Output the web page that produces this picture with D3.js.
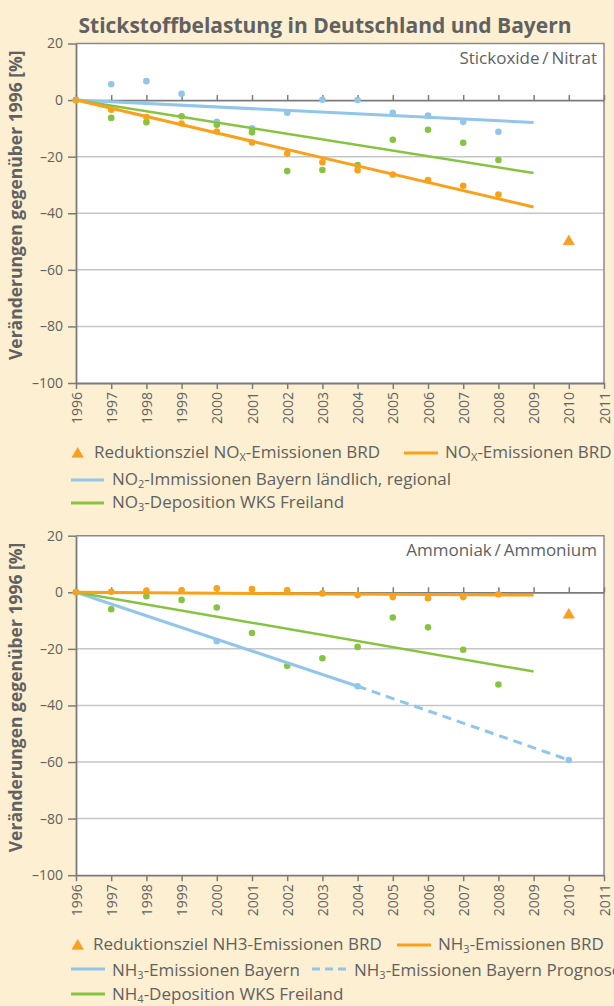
<!DOCTYPE html>
<html>
<head>
<meta charset="utf-8">
<script src="https://cdn.jsdelivr.net/npm/d3@7"></script>
<style>
  body { margin: 0; background: #fdefd1; }
  svg { display: block; font-family: "Open Sans", sans-serif; }
</style>
</head>
<body>
<div id="svg-area"></div>
<script>
// ---- data (% change against 1996) ----
var years = [1996, 1997, 1998, 1999, 2000, 2001, 2002, 2003, 2004, 2005, 2006, 2007, 2008];
var trendYears = [1996, 2009];
var targetYear = [2010];

// panel 1: Stickoxide / Nitrat
var noxBRD = [0, -3.4, -6, -8.3, -11.1, -15, -18.9, -22, -24.8, -26.3, -28.3, -30.3, -33.4];
var noxBRDTrend = [0, -37.8];
var no2Bayern = [0, 5.6, 6.7, 2.2, -7.7, -10, -4.5, 0.1, 0, -4.5, -5.5, -7.7, -11.2];
var no2BayernTrend = [0, -7.9];
var no3Deposition = [0, -6.3, -7.8, -5.7, -8.7, -11.4, -25.1, -24.7, -23, -14, -10.5, -15.1, -21.2];
var no3DepositionTrend = [0, -25.8];
var noxTarget = [-50];

// panel 2: Ammoniak / Ammonium
var nh3BRD = [0, 0.2, 0.5, 0.7, 1.4, 1.1, 0.7, -0.4, -1, -1.7, -2.1, -1.7, -0.7];
var nh3BRDTrend = [0, -1];
var nh4Deposition = [0, -6, -1.4, -2.7, -5.4, -14.4, -26, -23.3, -19.3, -8.9, -12.4, -20.3, -32.6];
var nh4DepositionTrend = [0, -28];
var nh3BayernYears = [1996, 2000, 2004];
var nh3Bayern = [0, -17.3, -33.2];
var nh3BayernLineYears = [1996, 2004];
var nh3BayernLine = [0, -33.2];
var nh3PrognoseYears = [2004, 2010];
var nh3Prognose = [-33.2, -59.3];
var nh3Target = [-8];

var yTicks = [20, 0, -20, -40, -60, -80, -100];
var xTicks = d3.range(1996, 2012);

// ---- colours ----
var orange = "#f9a11b";
var blue = "#92c5ea";
var green = "#86c440";
var textColor = "#616161";
var axisColor = "#7b7b7b";

// svg container
var svgWidth = 614;
var svgHeight = 1006;

var svg = d3.select("#svg-area").append("svg")
    .attr("width", svgWidth)
    .attr("height", svgHeight);

// title
svg.append("text")
    .attr("x", 325)
    .attr("y", 33)
    .attr("text-anchor", "middle")
    .attr("font-size", "21px")
    .attr("font-weight", "bold")
    .attr("fill", textColor)
    .text("Stickstoffbelastung in Deutschland und Bayern");

// plot area, shared x range
var plotLeft = 76, plotRight = 604, plotHeight = 339.5;

var xScale = d3.scaleLinear()
    .domain([1996, 2011])
    .range([plotLeft, plotRight]);

function zip(xs, ys) {
    return xs.map(function (d, i) { return [d, ys[i]]; });
}

// draws one panel with frame, grid and axes; returns the y scale
function drawPanel(top, label) {
    var yScale = d3.scaleLinear()
        .domain([-100, 20])
        .range([top + plotHeight, top]);

    var g = svg.append("g");

    g.append("rect")
        .attr("x", plotLeft)
        .attr("y", top)
        .attr("width", plotRight - plotLeft)
        .attr("height", plotHeight)
        .attr("fill", "#fff");

    // grid lines
    g.selectAll(".grid")
        .data([-20, -40, -60, -80])
        .enter()
        .append("line")
        .attr("x1", plotLeft)
        .attr("x2", plotRight)
        .attr("y1", d => yScale(d))
        .attr("y2", d => yScale(d))
        .attr("stroke", "#c6c6c6")
        .attr("stroke-width", 1.5);

    // top and right frame
    g.append("path")
        .attr("d", `M${plotLeft},${top}H${plotRight}V${top + plotHeight}`)
        .attr("fill", "none")
        .attr("stroke", "#8a8a8a")
        .attr("stroke-width", 1.5);

    // zero line with ticks pointing up
    var zeroAxis = g.append("g")
        .attr("transform", `translate(0, ${yScale(0)})`)
        .call(d3.axisTop(xScale).tickValues(xTicks).tickSize(5).tickFormat("").tickSizeOuter(0));

    // bottom axis with rotated year labels
    var xAxis = g.append("g")
        .attr("transform", `translate(0, ${top + plotHeight})`)
        .call(d3.axisBottom(xScale).tickValues(xTicks).tickSize(6).tickFormat(d3.format("d")).tickSizeOuter(0));

    xAxis.selectAll("text")
        .attr("transform", "rotate(-90)")
        .attr("x", -9)
        .attr("y", 0)
        .attr("dy", "0.36em")
        .style("text-anchor", "end");

    // left axis
    var yAxis = g.append("g")
        .attr("transform", `translate(${plotLeft}, 0)`)
        .call(d3.axisLeft(yScale).tickValues(yTicks).tickSize(8).tickPadding(5)
            .tickFormat(d => d < 0 ? "\u2013" + Math.abs(d) : d).tickSizeOuter(0));

    [zeroAxis, xAxis, yAxis].forEach(function (a) {
        a.select(".domain").attr("stroke", axisColor).attr("stroke-width", 1.8);
        a.selectAll(".tick line").attr("stroke", axisColor).attr("stroke-width", 1.5);
        a.selectAll("text")
            .attr("fill", textColor)
            .attr("font-size", "14px")
            .attr("font-family", "Open Sans, sans-serif");
    });

    // panel label
    g.append("text")
        .attr("x", 597)
        .attr("y", top + 20.5)
        .attr("text-anchor", "end")
        .attr("font-size", "17px")
        .attr("fill", textColor)
        .text(label);

    // y axis title
    svg.append("text")
        .attr("transform", `translate(22, ${top + plotHeight / 2 - 8}) rotate(-90)`)
        .attr("text-anchor", "middle")
        .attr("font-size", "17.5px")
        .attr("font-weight", "bold")
        .attr("fill", textColor)
        .text("Veränderungen gegenüber 1996 [%]");

    return yScale;
}

function addLine(yScale, xs, ys, color, width, dash) {
    var line = d3.line()
        .x(d => xScale(d[0]))
        .y(d => yScale(d[1]));
    svg.append("path")
        .datum(zip(xs, ys))
        .attr("d", line)
        .attr("fill", "none")
        .attr("stroke", color)
        .attr("stroke-width", width)
        .attr("stroke-dasharray", dash || null);
}

function addDots(yScale, xs, ys, color) {
    svg.append("g").selectAll("circle")
        .data(zip(xs, ys))
        .enter()
        .append("circle")
        .attr("cx", d => xScale(d[0]))
        .attr("cy", d => yScale(d[1]))
        .attr("r", 3.3)
        .attr("fill", color);
}

function addTriangle(x, y) {
    svg.append("path")
        .attr("transform", `translate(${x}, ${y})`)
        .attr("d", d3.symbol(d3.symbolTriangle).size(55)())
        .attr("fill", orange)
        .attr("stroke", "#f08a3a")
        .attr("stroke-width", 0.5);
}

// legend text with optional subscripts: parts = [[text, isSub], ...]
function legendText(x, y, parts) {
    var t = svg.append("text")
        .attr("x", x)
        .attr("y", y)
        .attr("font-size", "17px")
        .attr("fill", textColor);
    var shifted = false;
    parts.forEach(function (p) {
        var ts = t.append("tspan").text(p[0]);
        if (p[1]) {
            ts.attr("font-size", "11px").attr("dy", 3);
            shifted = true;
        } else if (shifted) {
            ts.attr("dy", -3);
            shifted = false;
        }
    });
}

function legendLine(x1, x2, y, color, dash) {
    svg.append("line")
        .attr("x1", x1)
        .attr("x2", x2)
        .attr("y1", y)
        .attr("y2", y)
        .attr("stroke", color)
        .attr("stroke-width", 3)
        .attr("stroke-dasharray", dash || null);
}

//////// panel 1 ////////
var y1 = drawPanel(43.5, "Stickoxide\u2009/\u2009Nitrat");

addDots(y1, years, no2Bayern, blue);
addDots(y1, years, no3Deposition, green);
addDots(y1, years, noxBRD, orange);
addLine(y1, trendYears, no2BayernTrend, blue, 3);
addLine(y1, trendYears, no3DepositionTrend, green, 2.5);
addLine(y1, trendYears, noxBRDTrend, orange, 3);
addTriangle(xScale(targetYear[0]), y1(noxTarget[0]));

// legend 1
addTriangle(77.7, 454);
legendText(94, 458, [["Reduktionsziel NO"], ["X", true], ["-Emissionen BRD"]]);
legendLine(404, 438, 453, orange);
legendText(445, 458, [["NO"], ["X", true], ["-Emissionen BRD"]]);
legendLine(71, 104, 480, blue);
legendText(112, 485, [["NO"], ["2", true], ["-Immissionen Bayern ländlich, regional"]]);
legendLine(71, 104, 503, green);
legendText(112, 508, [["NO"], ["3", true], ["-Deposition WKS Freiland"]]);

//////// panel 2 ////////
var y2 = drawPanel(535.7, "Ammoniak\u2009/\u2009Ammonium");

addDots(y2, nh3BayernYears, nh3Bayern, blue);
addDots(y2, targetYear, [nh3Prognose[1]], blue);
addDots(y2, years, nh4Deposition, green);
addDots(y2, years, nh3BRD, orange);
addLine(y2, nh3BayernLineYears, nh3BayernLine, blue, 3);
addLine(y2, nh3PrognoseYears, nh3Prognose, blue, 3, "9,6");
addLine(y2, trendYears, nh4DepositionTrend, green, 2.5);
addLine(y2, trendYears, nh3BRDTrend, orange, 3);
addTriangle(xScale(targetYear[0]), y2(nh3Target[0]));

// legend 2
addTriangle(77.7, 946);
legendText(93, 950, [["Reduktionsziel NH3-Emissionen BRD"]]);
legendLine(397, 431, 945, orange);
legendText(438, 950, [["NH"], ["3", true], ["-Emissionen BRD"]]);
legendLine(71, 105, 969, blue);
legendText(112, 976, [["NH"], ["3", true], ["-Emissionen Bayern"]]);
legendLine(312, 347, 969, blue, "8,5");
legendText(354, 976, [["NH"], ["3", true], ["-Emissionen Bayern Prognose"]]);
legendLine(71, 105, 994, green);
legendText(112, 1000, [["NH"], ["4", true], ["-Deposition WKS Freiland"]]);
</script>
</body>
</html>
